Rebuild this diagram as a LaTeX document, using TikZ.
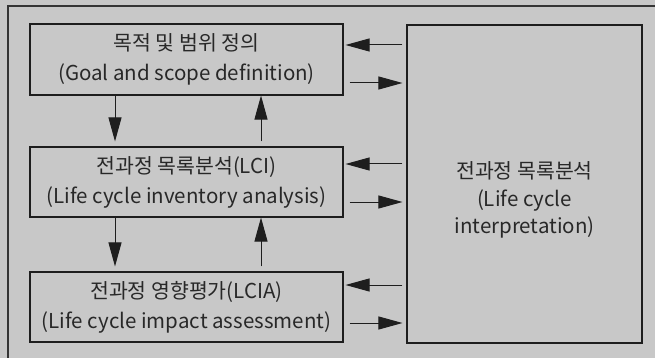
\documentclass[tikz,border=0pt]{standalone}
\usepackage{fontspec}
\setmainfont{Noto Sans CJK KR}
\usetikzlibrary{arrows.meta}
\definecolor{bg}{RGB}{200,200,200}
\definecolor{ink}{RGB}{30,30,30}
\definecolor{txt}{RGB}{40,40,40}
\tikzset{
  box/.style={draw=ink, line width=1.1pt, rectangle, inner sep=0pt, align=center,
    text=txt, font=\fontsize{20.5}{30}\selectfont},
  arr/.style={draw=ink, line width=1pt, -{Triangle[length=24pt,width=13pt]}},
  frame/.style={draw=ink!90, line width=1.6pt}
}
\begin{document}
\begin{tikzpicture}[x=1pt,y=-1pt]
\fill[bg] (0,0) rectangle (655,358);
\useasboundingbox (0,0) rectangle (655,358);
\draw[frame] (8,358) -- (8,6) -- (655,6);
\node[box, minimum width=313pt, minimum height=71pt] (b1) at (186.5,59.5)
  {목적 및 범위 정의\\(Goal and scope definition)};
\node[box, minimum width=313pt, minimum height=70pt] (b2) at (186.5,182)
  {전과정 목록분석(LCI)\\(Life cycle inventory analysis)};
\node[box, minimum width=313pt, minimum height=70pt] (b3) at (186.5,307)
  {전과정 영향평가(LCIA)\\(Life cycle impact assessment)};
\node[box, minimum width=235pt, minimum height=318pt] (rb) at (524.5,184) {};
\node[text=txt, align=center, font=\fontsize{20.5}{27.5}\selectfont] (rt) at (524.5,200)
  {전과정 목록분석\\(Life cycle\\interpretation)};
\coordinate (xl) at (115,0);
\coordinate (xr) at (261,0);
\foreach \n/\a/\b in {1/45/83, 2/164/202, 3/285/323}{
  \coordinate (ya\n) at (0,\a);
  \coordinate (yb\n) at (0,\b);
  \draw[arr, shorten <=4pt, shorten >=2pt] (rb.west |- ya\n) -- (b\n.east |- ya\n);
  \draw[arr, shorten <=6pt, shorten >=4pt] (b\n.east |- yb\n) -- (rb.west |- yb\n);
}
\draw[arr, shorten >=5pt] (b1.south -| xl) -- (b2.north -| xl);
\draw[arr, shorten <=5pt] (b2.north -| xr) -- (b1.south -| xr);
\draw[arr, shorten >=5pt] (b2.south -| xl) -- (b3.north -| xl);
\draw[arr, shorten <=5pt] (b3.north -| xr) -- (b2.south -| xr);
\end{tikzpicture}
\end{document}
